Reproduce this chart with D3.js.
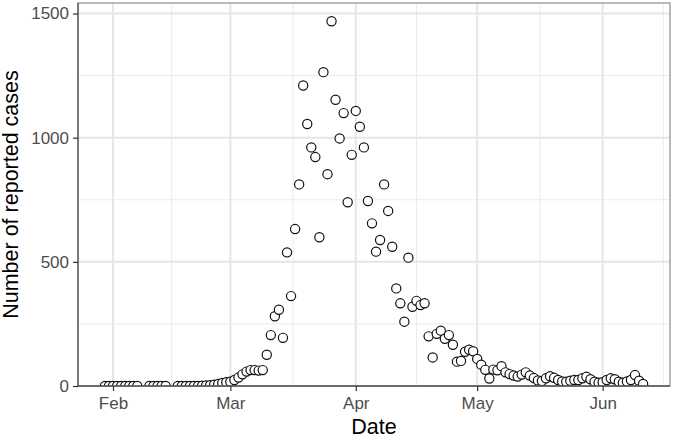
<!DOCTYPE html>
<html>
<head>
<meta charset="utf-8">
<script src="https://cdn.jsdelivr.net/npm/d3@7"></script>
<style>
  html, body { margin: 0; padding: 0; background: #ffffff; }
  svg { display: block; }
  text { font-family: "Liberation Sans", Arial, Helvetica, sans-serif; }
</style>
</head>
<body>
<svg id="chart" width="674" height="438"></svg>
<script>
// ---- data ----
const dates = [
  "2020-01-30","2020-01-31","2020-02-01","2020-02-02","2020-02-03","2020-02-04","2020-02-05","2020-02-06","2020-02-07",
  "2020-02-10","2020-02-11","2020-02-12","2020-02-13","2020-02-14",
  "2020-02-17","2020-02-18","2020-02-19","2020-02-20","2020-02-21","2020-02-22","2020-02-23","2020-02-24","2020-02-25",
  "2020-02-26","2020-02-27","2020-02-28","2020-02-29",
  "2020-03-01","2020-03-02","2020-03-03","2020-03-04","2020-03-05","2020-03-06","2020-03-07","2020-03-08","2020-03-09",
  "2020-03-10","2020-03-11","2020-03-12","2020-03-13","2020-03-14","2020-03-15","2020-03-16","2020-03-17","2020-03-18",
  "2020-03-19","2020-03-20","2020-03-21","2020-03-22","2020-03-23","2020-03-24","2020-03-25","2020-03-26","2020-03-27",
  "2020-03-28","2020-03-29","2020-03-30","2020-03-31",
  "2020-04-01","2020-04-02","2020-04-03","2020-04-04","2020-04-05","2020-04-06","2020-04-07","2020-04-08","2020-04-09",
  "2020-04-10","2020-04-11","2020-04-12","2020-04-13","2020-04-14","2020-04-15","2020-04-16","2020-04-17","2020-04-18",
  "2020-04-19","2020-04-20","2020-04-21","2020-04-22","2020-04-23","2020-04-24","2020-04-25","2020-04-26","2020-04-27",
  "2020-04-28","2020-04-29","2020-04-30",
  "2020-05-01","2020-05-02","2020-05-03","2020-05-04","2020-05-05","2020-05-06","2020-05-07","2020-05-08","2020-05-09",
  "2020-05-10","2020-05-11","2020-05-12","2020-05-13","2020-05-14","2020-05-15","2020-05-16","2020-05-17","2020-05-18",
  "2020-05-19","2020-05-20","2020-05-21","2020-05-22","2020-05-23","2020-05-24","2020-05-25","2020-05-26","2020-05-27",
  "2020-05-28","2020-05-29","2020-05-30","2020-05-31",
  "2020-06-01","2020-06-02","2020-06-03","2020-06-04","2020-06-05","2020-06-06","2020-06-07","2020-06-08","2020-06-09",
  "2020-06-10","2020-06-11"
];
const cases = [
  0,0,0,0,0,0,0,0,0,
  0,0,0,0,0,
  0,0,0,0,0,0,1,2,3,
  5,8,12,15,
  17,24,34,47,58,64,64,62,64,
  126,205,281,307,194,538,362,632,812,
  1210,1055,961,922,599,1264,853,1469,1153,
  997,1099,740,931,
  1108,1044,961,745,655,541,588,812,705,
  561,393,333,259,517,319,343,326,333,
  200,115,210,223,190,205,166,98,101,
  138,146,140,
  109,86,65,30,66,63,80,55,48,
  42,38,46,55,42,32,22,20,31,
  39,33,24,18,17,21,24,24,31,
  37,27,17,13,
  15,24,31,27,17,13,18,24,44,
  21,8
];
const xTickDates = ["2020-02-01","2020-03-01","2020-04-01","2020-05-01","2020-06-01"];
const xTickLabels = ["Feb","Mar","Apr","May","Jun"];
const xMinorDates = ["2020-02-15T12:00","2020-03-16T12:00","2020-04-16","2020-05-16T12:00","2020-06-16"];
const yTicks = [0, 500, 1000, 1500];
const yMinor = [250, 750, 1250];
const xTitle = "Date";
const yTitle = "Number of reported cases";

// ---- layout ----
const W = 674, H = 438;
const panel = { left: 78, right: 670, top: 3, bottom: 386 };

const parse = s => new Date(s.length > 10 ? s + ":00Z" : s + "T00:00:00Z");
const data = dates.map((d, i) => ({ date: parse(d), value: cases[i] }));

const ext = d3.extent(data, d => +d.date);
const pad = (ext[1] - ext[0]) * 0.05;
const x = d3.scaleUtc()
  .domain([new Date(ext[0] - pad), new Date(ext[1] + pad)])
  .range([panel.left, panel.right]);
const yMax = d3.max(cases) * 1.05;
const y = d3.scaleLinear().domain([0, yMax]).range([panel.bottom, panel.top]);

const svg = d3.select("#chart");
svg.append("rect").attr("width", W).attr("height", H).attr("fill", "#ffffff");

// gridlines
const grid = svg.append("g");
grid.selectAll(".ymin").data(yMinor).join("line")
  .attr("x1", panel.left).attr("x2", panel.right)
  .attr("y1", d => y(d)).attr("y2", d => y(d))
  .attr("stroke", "#ebebeb").attr("stroke-width", 1);
grid.selectAll(".xmin").data(xMinorDates.map(parse)).join("line")
  .attr("y1", panel.top).attr("y2", panel.bottom)
  .attr("x1", d => x(d)).attr("x2", d => x(d))
  .attr("stroke", "#ebebeb").attr("stroke-width", 1);
grid.selectAll(".ymaj").data(yTicks).join("line")
  .attr("x1", panel.left).attr("x2", panel.right)
  .attr("y1", d => y(d)).attr("y2", d => y(d))
  .attr("stroke", "#e6e6e6").attr("stroke-width", 2);
grid.selectAll(".xmaj").data(xTickDates.map(parse)).join("line")
  .attr("y1", panel.top).attr("y2", panel.bottom)
  .attr("x1", d => x(d)).attr("x2", d => x(d))
  .attr("stroke", "#e6e6e6").attr("stroke-width", 2);

// clip
svg.append("clipPath").attr("id", "pclip").append("rect")
  .attr("x", panel.left).attr("y", panel.top)
  .attr("width", panel.right - panel.left).attr("height", panel.bottom - panel.top);

// points
svg.append("g").attr("clip-path", "url(#pclip)")
  .selectAll("circle").data(data).join("circle")
  .attr("cx", d => x(d.date)).attr("cy", d => y(d.value))
  .attr("r", 4.6)
  .attr("fill", "#ffffff").attr("stroke", "#111111").attr("stroke-width", 1.2);

// panel border
svg.append("rect")
  .attr("x", panel.left).attr("y", panel.top)
  .attr("width", panel.right - panel.left).attr("height", panel.bottom - panel.top)
  .attr("fill", "none").attr("stroke", "#777777").attr("stroke-width", 1);

// axes
const xAxis = d3.axisBottom(x)
  .tickValues(xTickDates.map(parse))
  .tickFormat((d, i) => xTickLabels[i])
  .tickSize(5).tickPadding(6);
const gx = svg.append("g").attr("transform", `translate(0,${panel.bottom})`).call(xAxis);
const yAxis = d3.axisLeft(y).tickValues(yTicks).tickFormat(d3.format("d")).tickSize(5).tickPadding(4);
const gy = svg.append("g").attr("transform", `translate(${panel.left},0)`).call(yAxis);

[gx, gy].forEach(g => {
  g.select(".domain").attr("stroke", "#555555").attr("stroke-width", 1.3);
  g.selectAll(".tick line").attr("stroke", "#333333").attr("stroke-width", 1.2);
  g.selectAll(".tick text").attr("fill", "#4d4d4d").attr("font-size", "17px");
});
gx.select(".domain").attr("d", `M${panel.left},0H${panel.right}`);
gy.select(".domain").attr("d", `M0,${panel.bottom}V${panel.top}`);

// titles
svg.append("text")
  .attr("x", (panel.left + panel.right) / 2).attr("y", 434)
  .attr("text-anchor", "middle").attr("font-size", "21.5px").attr("fill", "#000")
  .text(xTitle);
svg.append("text")
  .attr("transform", `translate(18,${(panel.top + panel.bottom) / 2}) rotate(-90)`)
  .attr("text-anchor", "middle").attr("font-size", "21.5px").attr("fill", "#000")
  .text(yTitle);
</script>
</body>
</html>
